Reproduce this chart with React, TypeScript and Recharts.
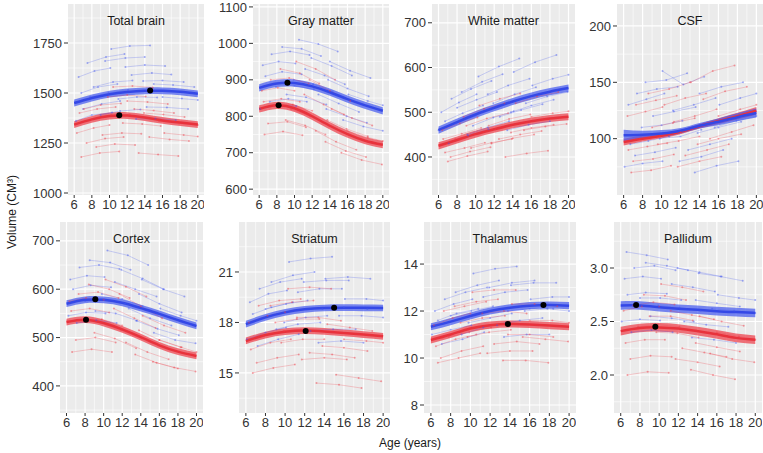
import { ComposedChart, Line, Area, XAxis, YAxis, CartesianGrid, ReferenceDot } from 'recharts';

// Brain volume trajectories, ages 6-20, boys (blue) vs girls (red)

const AGES = [6, 8, 10, 12, 14, 16, 18, 20];
const AGE_TICKS = [6, 8, 10, 12, 14, 16, 18, 20];
const AGE_MINOR = [7, 9, 11, 13, 15, 17, 19];

// fitted mean curves, read at AGES
const tbBoys = [1450, 1475, 1494, 1505, 1511, 1511, 1506, 1496];
const tbGirls = [1342, 1368, 1385, 1387, 1377, 1363, 1352, 1342];
const gmBoys = [878, 890, 891, 882, 866, 847, 830, 815];
const gmGirls = [820, 830, 822, 800, 774, 751, 733, 722];
const wmBoys = [460, 478, 495, 510, 524, 536, 546, 554];
const wmGirls = [425, 438, 451, 462, 472, 480, 486, 490];
const csfBoys = [103, 103.5, 104.6, 107, 111.5, 115, 119, 122.7];
const csfGirls = [97, 100, 102.6, 106, 111, 115.6, 120, 124.7];
const ctxBoys = [570, 578, 578, 572, 561, 549, 536, 524];
const ctxGirls = [532, 537, 530, 517, 501, 484, 471, 462];
const strBoys = [17.9, 18.3, 18.6, 18.78, 18.86, 18.88, 18.87, 18.86];
const strGirls = [16.9, 17.25, 17.45, 17.52, 17.47, 17.38, 17.28, 17.18];
const thaBoys = [11.33, 11.55, 11.79, 12.0, 12.14, 12.23, 12.26, 12.23];
const thaGirls = [10.77, 11.0, 11.26, 11.4, 11.45, 11.43, 11.38, 11.33];
const palBoys = [2.65, 2.65, 2.634, 2.62, 2.61, 2.597, 2.588, 2.58];
const palGirls = [2.41, 2.44, 2.445, 2.435, 2.41, 2.38, 2.347, 2.33];

// confidence half-widths
const csfCiBoys = [5, 3.5, 3, 2.5, 2.5, 3, 3.5, 4];
const csfCiGirls = [3, 2.5, 2.2, 2, 2, 2.5, 3, 3.5];

// individual subjects: [age, volume] per scan
const tbBoysSubj = [
  [[6.5, 1580], [8.3, 1610], [10.1, 1625]], [[7.0, 1420], [9.1, 1445], [11.2, 1460]],
  [[8.2, 1530], [10.4, 1555], [12.6, 1562]], [[9.5, 1660], [11.8, 1675], [14.0, 1680]],
  [[6.2, 1360], [8.0, 1390], [10.3, 1402]], [[11.0, 1470], [13.1, 1480], [15.4, 1478]],
  [[12.5, 1590], [14.8, 1600], [17.0, 1592]], [[14.2, 1430], [16.5, 1428], [18.9, 1420]],
  [[15.0, 1545], [17.2, 1540], [19.6, 1530]], [[10.2, 1720], [12.3, 1735], [14.6, 1738]],
  [[7.8, 1480], [9.9, 1500], [12.1, 1515]], [[13.0, 1370], [15.2, 1372], [17.5, 1365]],
  [[6.8, 1500], [8.7, 1530], [10.9, 1545]], [[9.0, 1390], [11.2, 1410], [13.5, 1418]],
  [[11.8, 1630], [14.0, 1640], [16.3, 1635]], [[16.0, 1480], [18.2, 1472], [20.0, 1465]],
  [[7.5, 1650], [9.6, 1680], [11.7, 1695]], [[13.8, 1560], [16.0, 1562], [18.4, 1555]],
];
const tbGirlsSubj = [
  [[6.3, 1300], [8.2, 1325], [10.0, 1340]], [[7.1, 1420], [9.0, 1440], [11.3, 1448]],
  [[8.5, 1230], [10.6, 1245], [12.9, 1240]], [[9.8, 1480], [12.0, 1490], [14.1, 1482]],
  [[6.8, 1180], [8.9, 1200], [11.1, 1208]], [[11.5, 1350], [13.7, 1345], [15.8, 1335]],
  [[12.8, 1420], [15.0, 1412], [17.3, 1400]], [[14.5, 1280], [16.8, 1268], [19.0, 1260]],
  [[15.6, 1360], [17.9, 1348], [20.0, 1340]], [[10.4, 1530], [12.6, 1535], [14.9, 1528]],
  [[8.0, 1370], [10.2, 1390], [12.3, 1393]], [[13.3, 1200], [15.5, 1192], [17.8, 1185]],
  [[6.6, 1400], [8.6, 1420], [10.7, 1430]], [[9.2, 1290], [11.4, 1300], [13.6, 1296]],
  [[12.0, 1460], [14.3, 1455], [16.6, 1445]], [[16.2, 1300], [18.4, 1290], [20.0, 1282]],
  [[7.4, 1250], [9.5, 1272], [11.6, 1280]], [[13.9, 1400], [16.1, 1392], [18.5, 1380]],
];
const gmBoysSubj = [
  [[6.4, 940], [8.2, 950], [10.1, 945]], [[7.2, 840], [9.3, 848], [11.4, 840]],
  [[8.6, 990], [10.8, 985], [13.0, 965]], [[9.9, 900], [12.1, 888], [14.3, 868]],
  [[6.1, 820], [8.0, 830], [10.2, 828]], [[11.2, 930], [13.4, 912], [15.7, 888]],
  [[12.7, 860], [15.0, 835], [17.3, 812]], [[14.0, 950], [16.3, 925], [18.6, 905]],
  [[15.5, 790], [17.8, 772], [20.0, 760]], [[10.5, 1010], [12.7, 998], [14.9, 978]],
  [[7.9, 880], [10.0, 884], [12.2, 874]], [[13.6, 820], [15.9, 800], [18.2, 782]],
  [[6.7, 910], [8.6, 922], [10.8, 915]], [[9.1, 860], [11.3, 852], [13.6, 832]],
  [[11.9, 960], [14.2, 938], [16.5, 912]], [[16.1, 860], [18.3, 842], [20.0, 830]],
  [[7.4, 970], [9.5, 978], [11.7, 968]], [[13.8, 900], [16.0, 876], [18.4, 855]],
];
const gmGirlsSubj = [
  [[6.3, 870], [8.1, 878], [10.0, 870]], [[7.0, 780], [9.2, 785], [11.3, 770]],
  [[8.4, 930], [10.6, 918], [12.8, 890]], [[9.6, 820], [11.8, 800], [14.0, 772]],
  [[6.6, 750], [8.7, 758], [10.9, 748]], [[11.1, 860], [13.3, 832], [15.6, 805]],
  [[12.4, 760], [14.7, 730], [17.0, 708]], [[14.2, 820], [16.5, 795], [18.8, 775]],
  [[15.3, 700], [17.6, 680], [19.9, 668]], [[10.2, 950], [12.4, 930], [14.6, 900]],
  [[7.7, 830], [9.8, 832], [12.0, 815]], [[13.5, 730], [15.8, 705], [18.1, 688]],
  [[6.5, 840], [8.5, 848], [10.6, 840]], [[9.0, 790], [11.2, 775], [13.5, 750]],
  [[11.7, 900], [14.0, 870], [16.3, 842]], [[16.0, 760], [18.3, 742], [20.0, 732]],
  [[7.3, 900], [9.4, 905], [11.6, 890]], [[13.7, 790], [15.9, 765], [18.3, 745]],
];
const wmBoysSubj = [
  [[6.3, 500], [8.2, 522], [10.1, 540]], [[7.1, 430], [9.2, 448], [11.4, 462]],
  [[8.5, 545], [10.7, 568], [12.9, 585]], [[9.7, 470], [11.9, 488], [14.1, 502]],
  [[6.0, 460], [7.9, 475], [10.0, 492]], [[11.3, 540], [13.5, 560], [15.8, 575]],
  [[12.6, 490], [14.9, 505], [17.2, 518]], [[14.1, 590], [16.4, 612], [18.7, 628]],
  [[15.4, 520], [17.7, 535], [19.9, 545]], [[10.3, 580], [12.5, 602], [14.7, 620]],
  [[8.0, 510], [10.1, 528], [12.3, 545]], [[13.4, 460], [15.7, 472], [18.0, 480]],
  [[6.7, 480], [8.6, 498], [10.8, 515]], [[9.1, 450], [11.3, 466], [13.6, 480]],
  [[11.9, 520], [14.2, 540], [16.5, 556]], [[16.1, 560], [18.3, 575], [20.0, 584]],
  [[7.4, 530], [9.5, 552], [11.7, 570]], [[13.8, 500], [16.0, 515], [18.4, 528]],
];
const wmGirlsSubj = [
  [[6.4, 460], [8.3, 475], [10.2, 488]], [[7.0, 390], [9.1, 402], [11.3, 412]],
  [[8.7, 490], [10.9, 508], [13.1, 520]], [[9.5, 420], [11.7, 432], [13.9, 440]],
  [[6.7, 410], [8.8, 420], [11.0, 432]], [[11.4, 470], [13.6, 485], [15.9, 495]],
  [[12.5, 440], [14.8, 450], [17.1, 458]], [[14.3, 520], [16.6, 535], [18.9, 545]],
  [[15.2, 460], [17.5, 468], [19.8, 474]], [[10.4, 515], [12.6, 530], [14.8, 542]],
  [[7.8, 440], [9.9, 452], [12.1, 462]], [[13.2, 400], [15.5, 408], [17.8, 414]],
  [[6.5, 440], [8.5, 452], [10.6, 465]], [[9.0, 470], [11.2, 486], [13.5, 498]],
  [[11.7, 430], [14.0, 442], [16.3, 450]], [[16.0, 490], [18.3, 498], [20.0, 502]],
  [[7.3, 400], [9.4, 412], [11.6, 422]], [[13.8, 455], [16.0, 465], [18.4, 472]],
];
const csfBoysSubj = [
  [[6.5, 130], [8.4, 135], [10.3, 140]], [[7.2, 85], [9.3, 88], [11.5, 92]],
  [[8.3, 150], [10.5, 152], [12.7, 158]], [[9.8, 100], [12.0, 102], [14.2, 108]],
  [[6.1, 75], [8.0, 78], [10.1, 80]], [[11.2, 125], [13.4, 130], [15.7, 136]],
  [[12.8, 90], [15.1, 95], [17.4, 100]], [[14.0, 140], [16.3, 146], [18.6, 150]],
  [[15.6, 110], [17.9, 116], [20.0, 120]], [[10.1, 160], [12.3, 148], [14.5, 155]],
  [[7.9, 110], [10.0, 112], [12.2, 116]], [[13.5, 70], [15.8, 76], [18.1, 80]],
  [[6.7, 95], [8.6, 98], [10.8, 102]], [[9.1, 120], [11.3, 124], [13.6, 128]],
  [[11.9, 80], [14.2, 84], [16.5, 90]], [[16.1, 130], [18.3, 136], [20.0, 140]],
  [[7.4, 140], [9.5, 144], [11.7, 146]], [[13.8, 105], [16.0, 110], [18.4, 115]],
];
const csfGirlsSubj = [
  [[6.4, 120], [8.3, 124], [10.1, 128]], [[7.0, 80], [9.1, 82], [11.3, 86]],
  [[8.6, 140], [10.8, 144], [13.0, 150]], [[9.6, 95], [11.8, 98], [14.0, 102]],
  [[6.8, 70], [8.9, 72], [11.0, 76]], [[11.3, 115], [13.5, 120], [15.8, 126]],
  [[12.5, 85], [14.8, 90], [17.1, 95]], [[14.4, 135], [16.7, 142], [19.0, 146]],
  [[15.1, 100], [17.4, 106], [19.7, 112]], [[10.3, 130], [12.5, 136], [14.7, 140]],
  [[7.7, 100], [9.8, 102], [12.0, 106]], [[13.1, 150], [15.4, 160], [17.7, 165]],
  [[6.5, 90], [8.5, 93], [10.6, 96]], [[9.0, 110], [11.2, 114], [13.5, 118]],
  [[11.7, 75], [14.0, 80], [16.3, 84]], [[16.0, 120], [18.3, 126], [20.0, 130]],
  [[7.3, 130], [9.4, 134], [11.6, 138]], [[13.8, 95], [16.0, 100], [18.4, 104]],
];
const ctxBoysSubj = [
  [[6.4, 620], [8.2, 628], [10.1, 625]], [[7.1, 530], [9.2, 536], [11.4, 530]],
  [[8.5, 660], [10.7, 655], [12.9, 640]], [[9.8, 590], [12.0, 580], [14.2, 565]],
  [[6.2, 545], [8.1, 552], [10.2, 550]], [[11.2, 615], [13.4, 600], [15.7, 585]],
  [[12.7, 560], [15.0, 540], [17.3, 525]], [[14.1, 620], [16.4, 600], [18.7, 585]],
  [[15.4, 510], [17.7, 495], [19.9, 488]], [[10.4, 680], [12.6, 670], [14.8, 650]],
  [[8.0, 575], [10.1, 578], [12.3, 570]], [[13.5, 535], [15.8, 518], [18.1, 505]],
  [[6.7, 600], [8.6, 608], [10.8, 604]], [[9.1, 555], [11.3, 550], [13.6, 535]],
  [[11.9, 640], [14.2, 622], [16.5, 600]], [[16.1, 560], [18.3, 545], [20.0, 535]],
  [[7.4, 645], [9.5, 650], [11.7, 642]], [[13.8, 590], [16.0, 570], [18.4, 552]],
];
const ctxGirlsSubj = [
  [[6.3, 575], [8.1, 582], [10.0, 578]], [[7.0, 495], [9.1, 500], [11.3, 490]],
  [[8.4, 610], [10.6, 600], [12.8, 582]], [[9.7, 530], [11.9, 515], [14.1, 498]],
  [[6.6, 470], [8.7, 476], [10.9, 470]], [[11.1, 560], [13.3, 540], [15.6, 520]],
  [[12.4, 490], [14.7, 470], [17.0, 455]], [[14.2, 545], [16.5, 525], [18.8, 510]],
  [[15.3, 450], [17.6, 438], [19.9, 430]], [[10.2, 620], [12.4, 605], [14.6, 585]],
  [[7.7, 535], [9.8, 538], [12.0, 525]], [[13.4, 465], [15.7, 448], [18.0, 436]],
  [[6.5, 555], [8.5, 560], [10.6, 552]], [[9.0, 510], [11.2, 498], [13.5, 478]],
  [[11.7, 590], [14.0, 565], [16.3, 540]], [[16.0, 495], [18.3, 480], [20.0, 470]],
  [[7.3, 590], [9.4, 594], [11.6, 582]], [[13.8, 515], [16.0, 495], [18.4, 480]],
];
const strBoysSubj = [
  [[6.4, 19.2], [8.3, 19.7], [10.2, 19.9]], [[7.2, 16.6], [9.3, 17.0], [11.4, 17.3]],
  [[8.6, 20.4], [10.8, 20.8], [13.0, 21.0]], [[9.9, 18.0], [12.1, 18.3], [14.3, 18.4]],
  [[6.1, 17.0], [8.0, 17.4], [10.1, 17.7]], [[11.3, 19.8], [13.5, 20.0], [15.8, 20.0]],
  [[12.6, 17.5], [14.9, 17.6], [17.2, 17.6]], [[14.1, 20.6], [16.4, 20.7], [18.7, 20.6]],
  [[15.5, 18.4], [17.8, 18.4], [20.0, 18.3]], [[10.4, 21.6], [12.6, 21.8], [14.8, 21.9]],
  [[8.0, 18.8], [10.1, 19.1], [12.3, 19.3]], [[13.4, 16.8], [15.7, 16.9], [18.0, 16.8]],
  [[6.7, 18.5], [8.6, 18.9], [10.8, 19.2]], [[9.1, 17.6], [11.3, 17.9], [13.6, 18.0]],
  [[11.9, 20.4], [14.2, 20.5], [16.5, 20.5]], [[16.1, 19.4], [18.3, 19.4], [20.0, 19.3]],
  [[7.4, 20.0], [9.5, 20.4], [11.7, 20.6]], [[13.8, 18.8], [16.0, 18.9], [18.4, 18.8]],
];
const strGirlsSubj = [
  [[6.3, 18.0], [8.2, 18.4], [10.0, 18.6]], [[7.1, 15.6], [9.2, 15.9], [11.4, 16.1]],
  [[8.5, 19.0], [10.7, 19.2], [12.9, 19.3]], [[9.6, 16.8], [11.8, 17.0], [14.0, 17.0]],
  [[6.7, 15.0], [8.8, 15.3], [11.0, 15.5]], [[11.2, 18.3], [13.4, 18.3], [15.7, 18.1]],
  [[12.5, 16.2], [14.8, 16.1], [17.1, 15.9]], [[14.3, 17.9], [16.6, 17.7], [18.9, 17.5]],
  [[15.2, 14.9], [17.5, 14.7], [19.8, 14.5]], [[10.3, 20.0], [12.5, 20.1], [14.7, 20.0]],
  [[7.8, 17.2], [9.9, 17.5], [12.1, 17.6]], [[13.2, 14.4], [15.5, 14.3], [17.8, 14.1]],
  [[6.5, 16.4], [8.5, 16.8], [10.6, 17.0]], [[9.0, 18.0], [11.2, 18.2], [13.5, 18.2]],
  [[11.7, 15.8], [14.0, 15.9], [16.3, 15.8]], [[16.0, 17.0], [18.3, 16.9], [20.0, 16.8]],
  [[7.3, 19.0], [9.4, 19.3], [11.6, 19.4]], [[13.8, 16.6], [16.0, 16.5], [18.4, 16.3]],
];
const thaBoysSubj = [
  [[6.4, 12.0], [8.3, 12.3], [10.2, 12.5]], [[7.1, 10.6], [9.2, 10.8], [11.4, 11.1]],
  [[8.5, 12.8], [10.7, 13.1], [12.9, 13.3]], [[9.8, 11.5], [12.0, 11.7], [14.2, 11.9]],
  [[6.1, 11.0], [8.0, 11.2], [10.1, 11.4]], [[11.3, 12.6], [13.5, 12.8], [15.8, 12.9]],
  [[12.7, 11.4], [15.0, 11.6], [17.3, 11.7]], [[14.1, 13.1], [16.4, 13.2], [18.7, 13.2]],
  [[15.5, 12.0], [17.8, 12.1], [20.0, 12.0]], [[10.3, 13.6], [12.5, 13.8], [14.7, 13.9]],
  [[8.0, 11.8], [10.1, 12.0], [12.3, 12.2]], [[13.4, 10.9], [15.7, 11.0], [18.0, 11.0]],
  [[6.7, 11.6], [8.6, 11.9], [10.8, 12.1]], [[9.1, 11.0], [11.3, 11.3], [13.6, 11.5]],
  [[11.9, 13.0], [14.2, 13.2], [16.5, 13.3]], [[16.1, 12.5], [18.3, 12.6], [20.0, 12.6]],
  [[7.4, 12.5], [9.5, 12.8], [11.7, 13.0]], [[13.8, 12.0], [16.0, 12.1], [18.4, 12.1]],
];
const thaGirlsSubj = [
  [[6.3, 11.4], [8.2, 11.7], [10.0, 11.9]], [[7.0, 10.0], [9.1, 10.3], [11.3, 10.5]],
  [[8.4, 12.2], [10.6, 12.4], [12.8, 12.5]], [[9.7, 10.9], [11.9, 11.1], [14.1, 11.2]],
  [[6.7, 9.8], [8.8, 10.0], [11.0, 10.2]], [[11.2, 11.9], [13.4, 12.0], [15.7, 11.9]],
  [[12.4, 10.6], [14.7, 10.7], [17.0, 10.6]], [[14.2, 12.3], [16.5, 12.3], [18.8, 12.2]],
  [[15.3, 10.9], [17.6, 10.8], [19.9, 10.7]], [[10.2, 12.8], [12.4, 12.9], [14.6, 12.9]],
  [[7.8, 10.9], [9.9, 11.1], [12.1, 11.3]], [[13.3, 9.9], [15.6, 9.9], [17.9, 9.8]],
  [[6.5, 10.5], [8.5, 10.8], [10.6, 11.0]], [[9.0, 11.5], [11.2, 11.7], [13.5, 11.8]],
  [[11.7, 10.2], [14.0, 10.3], [16.3, 10.3]], [[16.0, 11.6], [18.3, 11.6], [20.0, 11.5]],
  [[7.3, 12.0], [9.4, 12.2], [11.6, 12.4]], [[13.8, 11.0], [16.0, 11.0], [18.4, 10.9]],
];
const palBoysSubj = [
  [[6.4, 2.90], [8.3, 2.92], [10.2, 2.90]], [[7.1, 2.40], [9.2, 2.42], [11.4, 2.40]],
  [[8.6, 3.05], [10.8, 3.02], [13.0, 2.98]], [[9.9, 2.65], [12.1, 2.63], [14.3, 2.60]],
  [[6.1, 2.50], [8.0, 2.52], [10.1, 2.51]], [[11.3, 2.85], [13.5, 2.82], [15.8, 2.78]],
  [[12.6, 2.50], [14.9, 2.47], [17.2, 2.45]], [[14.1, 2.95], [16.4, 2.92], [18.7, 2.88]],
  [[15.5, 2.62], [17.8, 2.60], [20.0, 2.58]], [[6.6, 3.15], [8.7, 3.12], [10.9, 3.08]],
  [[8.0, 2.72], [10.1, 2.72], [12.3, 2.70]], [[13.4, 2.35], [15.7, 2.33], [18.0, 2.30]],
  [[6.7, 2.75], [8.6, 2.77], [10.8, 2.76]], [[9.1, 2.55], [11.3, 2.53], [13.6, 2.50]],
  [[11.9, 3.00], [14.2, 2.96], [16.5, 2.92]], [[16.1, 2.75], [18.3, 2.72], [20.0, 2.70]],
  [[7.4, 3.00], [9.5, 3.02], [11.7, 2.98]], [[13.8, 2.70], [16.0, 2.67], [18.4, 2.64]],
];
const palGirlsSubj = [
  [[6.3, 2.60], [8.2, 2.64], [10.0, 2.64]], [[7.0, 2.15], [9.1, 2.18], [11.3, 2.17]],
  [[8.4, 2.75], [10.6, 2.74], [12.8, 2.70]], [[9.7, 2.40], [11.9, 2.39], [14.1, 2.35]],
  [[6.7, 2.00], [8.8, 2.03], [11.0, 2.02]], [[11.2, 2.60], [13.4, 2.56], [15.7, 2.52]],
  [[12.4, 2.25], [14.7, 2.21], [17.0, 2.17]], [[14.2, 2.55], [16.5, 2.50], [18.8, 2.46]],
  [[15.3, 2.20], [17.6, 2.15], [19.9, 2.12]], [[10.2, 2.85], [12.4, 2.82], [14.6, 2.78]],
  [[7.8, 2.45], [9.9, 2.47], [12.1, 2.45]], [[13.3, 2.05], [15.6, 2.00], [17.9, 1.96]],
  [[6.5, 2.30], [8.5, 2.33], [10.6, 2.33]], [[9.0, 2.55], [11.2, 2.55], [13.5, 2.51]],
  [[11.7, 2.15], [14.0, 2.12], [16.3, 2.08]], [[16.0, 2.40], [18.3, 2.36], [20.0, 2.33]],
  [[7.3, 2.65], [9.4, 2.68], [11.6, 2.66]], [[13.8, 2.30], [16.0, 2.26], [18.4, 2.22]],
];

const BLUE = '#4257f0';
const RED = '#ee3b46';
const FONT = '"Liberation Sans", Arial, Helvetica, sans-serif';

type Panel = {
  title: string;
  left: number; right: number; top: number; bottom: number;
  domain: [number, number];
  ticks: number[];
  minor: number[];
  boys: number[]; girls: number[];
  ciBoys: number | number[]; ciGirls: number | number[];
  boysSubj: number[][][]; girlsSubj: number[][][];
  peakBoys?: [number, number]; peakGirls?: [number, number];
  fmt?: (v: number) => string;
};

const panels: Panel[] = [
  {
    title: 'Total brain', left: 68, right: 204, top: 4, bottom: 195,
    domain: [990, 1945], ticks: [1000, 1250, 1500, 1750], minor: [1125, 1375, 1625, 1875],
    boys: tbBoys, girls: tbGirls, ciBoys: 17, ciGirls: 17,
    boysSubj: tbBoysSubj, girlsSubj: tbGirlsSubj, peakBoys: [14.6, 1512], peakGirls: [11.1, 1389],
  },
  {
    title: 'Gray matter', left: 253, right: 389, top: 4, bottom: 195,
    domain: [584, 1108], ticks: [600, 700, 800, 900, 1000, 1100], minor: [650, 750, 850, 950, 1050],
    boys: gmBoys, girls: gmGirls, ciBoys: 10, ciGirls: 10,
    boysSubj: gmBoysSubj, girlsSubj: gmGirlsSubj, peakBoys: [9.2, 892], peakGirls: [8.2, 830],
  },
  {
    title: 'White matter', left: 432, right: 575, top: 4, bottom: 195,
    domain: [315, 742], ticks: [400, 500, 600, 700], minor: [350, 450, 550, 650],
    boys: wmBoys, girls: wmGirls, ciBoys: 8, ciGirls: 8,
    boysSubj: wmBoysSubj, girlsSubj: wmGirlsSubj,
  },
  {
    title: 'CSF', left: 617, right: 763, top: 4, bottom: 195,
    domain: [50, 219.5], ticks: [100, 150, 200], minor: [75, 125, 175],
    boys: csfBoys, girls: csfGirls, ciBoys: csfCiBoys, ciGirls: csfCiGirls,
    boysSubj: csfBoysSubj, girlsSubj: csfGirlsSubj,
  },
  {
    title: 'Cortex', left: 60, right: 203, top: 222, bottom: 413,
    domain: [344, 739], ticks: [400, 500, 600, 700], minor: [350, 450, 550, 650],
    boys: ctxBoys, girls: ctxGirls, ciBoys: 7, ciGirls: 7,
    boysSubj: ctxBoysSubj, girlsSubj: ctxGirlsSubj, peakBoys: [9.1, 579], peakGirls: [8.1, 537],
  },
  {
    title: 'Striatum', left: 239, right: 390, top: 222, bottom: 413,
    domain: [12.62, 23.97], ticks: [15, 18, 21], minor: [13.5, 16.5, 19.5, 22.5],
    boys: strBoys, girls: strGirls, ciBoys: 0.2, ciGirls: 0.2,
    boysSubj: strBoysSubj, girlsSubj: strGirlsSubj, peakBoys: [15.0, 18.88], peakGirls: [12.1, 17.5],
  },
  {
    title: 'Thalamus', left: 424, right: 576, top: 222, bottom: 413,
    domain: [7.66, 15.79], ticks: [8, 10, 12, 14], minor: [9, 11, 13, 15],
    boys: thaBoys, girls: thaGirls, ciBoys: 0.15, ciGirls: 0.15,
    boysSubj: thaBoysSubj, girlsSubj: thaGirlsSubj, peakBoys: [17.4, 12.26], peakGirls: [13.8, 11.45],
  },
  {
    title: 'Pallidum', left: 614, right: 762, top: 222, bottom: 413,
    domain: [1.645, 3.43], ticks: [2.0, 2.5, 3.0], minor: [1.75, 2.25, 2.75, 3.25],
    boys: palBoys, girls: palGirls, ciBoys: 0.04, ciGirls: 0.04,
    boysSubj: palBoysSubj, girlsSubj: palGirlsSubj, peakBoys: [7.6, 2.655], peakGirls: [9.6, 2.45],
    fmt: (v) => v.toFixed(1),
  },
];

const Y_W = 40;
const X_H = 26;
const PAD_TOP = 8; // room above the panel so top tick labels are not clipped
const tickStyle = { fontSize: 13, fill: '#333', fontFamily: FONT };

function ci(c: number | number[], i: number) {
  return Array.isArray(c) ? c[i] : c;
}

function PanelChart({ p }: { p: Panel }) {
  const w = p.right - p.left + Y_W;
  const h = p.bottom - p.top + X_H + PAD_TOP;
  const rows = AGES.map((age, i) => ({
    age,
    bm: p.boys[i],
    gm: p.girls[i],
    bBand: [p.boys[i] - ci(p.ciBoys, i), p.boys[i] + ci(p.ciBoys, i)],
    gBand: [p.girls[i] - ci(p.ciGirls, i), p.girls[i] + ci(p.ciGirls, i)],
  }));

  const subjLine = (s: number[][], color: string, key: string) => (
    <Line
      key={key}
      data={s.map(([age, v]) => ({ age, v }))}
      dataKey="v"
      type="linear"
      stroke={color}
      strokeOpacity={0.32}
      strokeWidth={0.8}
      dot={{ r: 1, fill: color, fillOpacity: 0.45, stroke: 'none' }}
      activeDot={false}
      isAnimationActive={false}
    />
  );

  return (
    <div style={{ position: 'absolute', left: p.left - Y_W, top: p.top - PAD_TOP }}>
      <ComposedChart width={w} height={h} data={rows} margin={{ top: PAD_TOP, right: 0, bottom: 0, left: 0 }}>
        <CartesianGrid
          fill="#ebebeb"
          stroke="#fff"
          strokeWidth={0.6}
          horizontalValues={p.minor}
          verticalValues={AGE_MINOR}
        />
        <CartesianGrid stroke="#fff" strokeWidth={1.2} horizontalValues={p.ticks} verticalValues={AGE_TICKS} />
        <XAxis
          type="number"
          dataKey="age"
          domain={[5.3, 20.7]}
          ticks={AGE_TICKS}
          allowDataOverflow
          axisLine={false}
          tickSize={3}
          tickMargin={2}
          tickLine={{ stroke: '#333' }}
          tick={tickStyle}
          height={X_H}
          interval={0}
        />
        <YAxis
          type="number"
          domain={p.domain}
          ticks={p.ticks}
          allowDataOverflow
          axisLine={false}
          tickSize={4}
          tickMargin={2}
          tickLine={{ stroke: '#333' }}
          tick={tickStyle}
          tickFormatter={p.fmt}
          width={Y_W}
          interval={0}
        />
        {p.boysSubj.map((s, i) => subjLine(s, BLUE, 'b' + i))}
        {p.girlsSubj.map((s, i) => subjLine(s, RED, 'g' + i))}
        <Area dataKey="gBand" type="natural" fill={RED} fillOpacity={0.7} stroke="none" isAnimationActive={false} activeDot={false} />
        <Line dataKey="gm" type="natural" stroke="#e8323c" strokeWidth={2.5} dot={false} activeDot={false} isAnimationActive={false} />
        <Area dataKey="bBand" type="natural" fill={BLUE} fillOpacity={0.7} stroke="none" isAnimationActive={false} activeDot={false} />
        <Line dataKey="bm" type="natural" stroke="#3448e6" strokeWidth={2.5} dot={false} activeDot={false} isAnimationActive={false} />
        {p.peakBoys && <ReferenceDot x={p.peakBoys[0]} y={p.peakBoys[1]} r={3} fill="#000" stroke="none" />}
        {p.peakGirls && <ReferenceDot x={p.peakGirls[0]} y={p.peakGirls[1]} r={3} fill="#000" stroke="none" />}
      </ComposedChart>
      <div
        style={{
          position: 'absolute', left: Y_W, width: p.right - p.left, top: PAD_TOP + 9,
          textAlign: 'center', fontFamily: FONT, fontSize: 12.5, color: '#1a1a1a', lineHeight: '16px',
        }}
      >
        {p.title}
      </div>
    </div>
  );
}

export default function App() {
  return (
    <div style={{ position: 'relative', width: 763, height: 453, background: '#fff', overflow: 'hidden' }}>
      <style>{'body{margin:0}'}</style>
      {panels.map((p) => (
        <PanelChart key={p.title} p={p} />
      ))}
      <div
        style={{
          position: 'absolute', left: 12, top: 212, transform: 'translate(-50%, -50%) rotate(-90deg)',
          fontFamily: FONT, fontSize: 12, color: '#1a1a1a', whiteSpace: 'nowrap',
        }}
      >
        Volume (CM³)
      </div>
      <div
        style={{
          position: 'absolute', left: 410, top: 443, transform: 'translate(-50%, -50%)',
          fontFamily: FONT, fontSize: 12, color: '#1a1a1a', whiteSpace: 'nowrap',
        }}
      >
        Age (years)
      </div>
    </div>
  );
}
